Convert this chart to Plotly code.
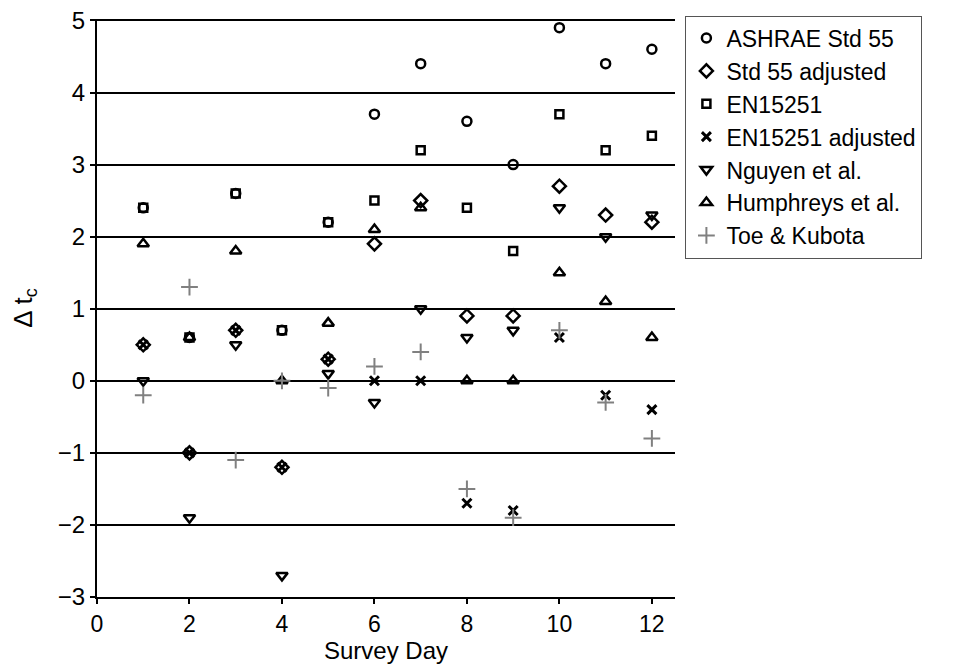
import plotly.graph_objects as go

days = [1, 2, 3, 4, 5, 6, 7, 8, 9, 10, 11, 12]
ashrae = [2.4, 0.6, 2.6, 0.7, 2.2, 3.7, 4.4, 3.6, 3.0, 4.9, 4.4, 4.6]
std55_adj = [0.5, -1.0, 0.7, -1.2, 0.3, 1.9, 2.5, 0.9, 0.9, 2.7, 2.3, 2.2]
en15251 = [2.4, 0.6, 2.6, 0.7, 2.2, 2.5, 3.2, 2.4, 1.8, 3.7, 3.2, 3.4]
en15251_adj = [0.5, -1.0, 0.7, -1.2, 0.3, 0.0, 0.0, -1.7, -1.8, 0.6, -0.2, -0.4]
nguyen = [0.0, -1.9, 0.5, -2.7, 0.1, -0.3, 1.0, 0.6, 0.7, 2.4, 2.0, 2.3]
humphreys = [1.9, 0.6, 1.8, 0.0, 0.8, 2.1, 2.4, 0.0, 0.0, 1.5, 1.1, 0.6]
toe_kubota = [-0.2, 1.3, -1.1, 0.0, -0.1, 0.2, 0.4, -1.5, -1.9, 0.7, -0.3, -0.8]

series = [
    ("ASHRAE Std 55", ashrae, "circle-open", 9, "black", 2.5),
    ("Std 55 adjusted", std55_adj, "diamond-open", 10, "black", 2.5),
    ("EN15251", en15251, "square-open", 8, "black", 2.5),
    ("EN15251 adjusted", en15251_adj, "x-thin-open", 9, "black", 3),
    ("Nguyen et al.", nguyen, "triangle-down-open", 10, "black", 2.5),
    ("Humphreys et al.", humphreys, "triangle-up-open", 10, "black", 2.5),
    ("Toe & Kubota", toe_kubota, "cross-thin-open", 12, "#808080", 2),
]

FONT = "Liberation Sans, Arial, Helvetica, sans-serif"

fig = go.Figure()
for name, vals, sym, size, color, lw in series:
    fig.add_trace(go.Scatter(
        x=days, y=vals, mode="markers", name=name,
        marker=dict(symbol=sym, size=size, color=color,
                    line=dict(color=color, width=lw)),
    ))

# page body has an 8px default margin; figure is sized to fit the 961x664 window
fig.update_layout(
    width=953, height=656,
    margin=dict(l=89, r=286, t=11, b=67, autoexpand=False),
    paper_bgcolor="white", plot_bgcolor="white",
    font=dict(family=FONT, color="black", size=24),
    showlegend=True,
    legend=dict(
        x=1.018, y=1.006, xanchor="left", yanchor="top",
        bgcolor="white", bordercolor="#555555", borderwidth=1,
        font=dict(family=FONT, size=23, color="black"),
        itemwidth=30,
    ),
    xaxis=dict(
        range=[0, 12.5], tickmode="array", tickvals=[0, 2, 4, 6, 8, 10, 12],
        showgrid=False, zeroline=False, automargin=False,
        showline=True, linecolor="black", linewidth=2,
        ticks="outside", ticklen=5, tickwidth=2, tickcolor="black",
        tickfont=dict(size=23),
        title=dict(text="Survey Day", font=dict(size=24), standoff=0),
    ),
    yaxis=dict(
        range=[-3, 5.02], tickmode="array", tickvals=[-3, -2, -1, 0, 1, 2, 3, 4, 5],
        ticktext=["\u22123", "\u22122", "\u22121", "0", "1", "2", "3", "4", "5"],
        showgrid=True, gridcolor="black", gridwidth=2,
        zeroline=False, automargin=False, ticklabeloverflow="allow",
        showline=True, linecolor="black", linewidth=2,
        ticks="outside", ticklen=5, tickwidth=2, tickcolor="black",
        tickfont=dict(size=24),
        title=dict(text="\u0394 t<sub>c</sub>", font=dict(size=26), standoff=28),
    ),
)

fig.write_html("out.html")
